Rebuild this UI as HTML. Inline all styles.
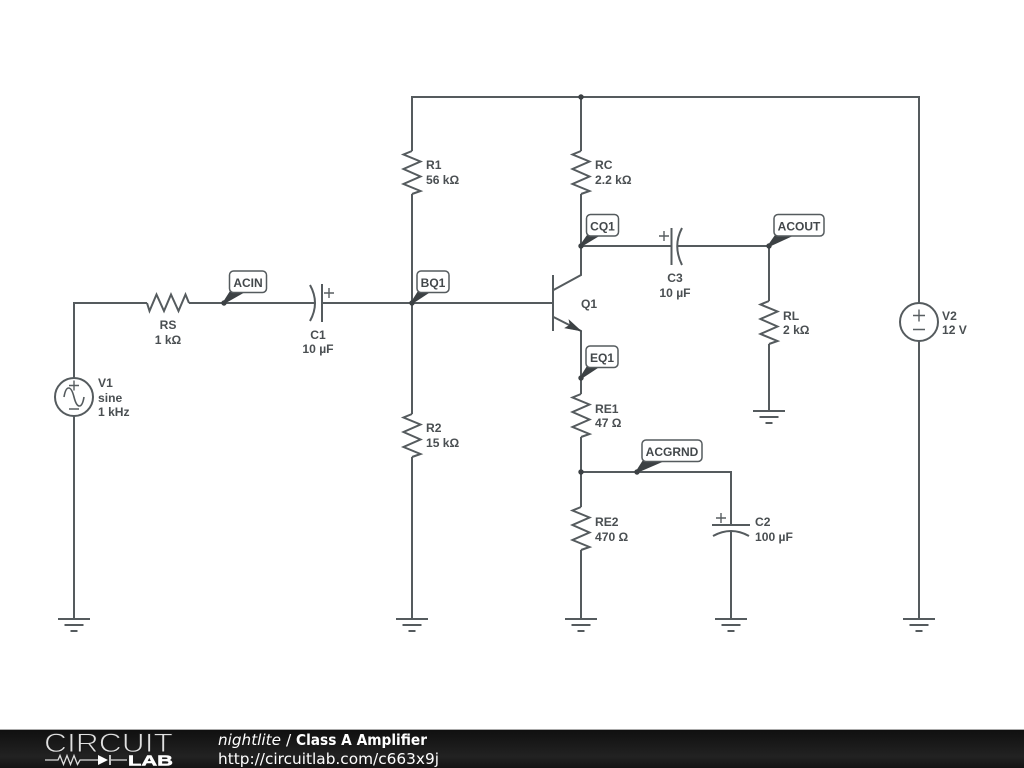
<!DOCTYPE html>
<html><head><meta charset="utf-8"><style>
html,body{margin:0;padding:0;background:#fff;width:1024px;height:768px;overflow:hidden}
svg{display:block}
.w{fill:none;stroke:#555b5e;stroke-width:2}
.t{fill:none;stroke:#585e61;stroke-width:1.4}
.l{font:bold 12.1px "Liberation Sans",sans-serif;fill:#4a4f52}
.n{font:bold 12px "Liberation Sans",sans-serif;fill:#43484b}
.b{fill:#fff;stroke:#555b5e;stroke-width:1.5}
.d{fill:#3c4144}
.f{font-family:"DejaVu Sans",sans-serif;font-size:15.4px;fill:#fff}
</style></head><body>
<svg width="1024" height="768" viewBox="0 0 1024 768" xmlns="http://www.w3.org/2000/svg">
<defs>
<linearGradient id="g" x1="0" y1="0" x2="0" y2="1"><stop offset="0" stop-color="#101010"/><stop offset=".7" stop-color="#222"/><stop offset="1" stop-color="#141414"/></linearGradient>
<g id="vr"><path class="w" d="M0,-21.5 L-8.500,-18 L8.500,-11 L-8.500,-3.500 L8.500,4 L-8.500,11.500 L8.500,18.500 L0,21.500"/></g>
<g id="gnd"><path class="w" d="M-16,0H16M-9.500,6H9.500M-3.500,12H3.500"/></g>
</defs>

<!-- wires -->
<path class="w" d="M74,378V303H147M189,303H315M322,303H553"/>
<path class="w" d="M74,416V619"/>
<path class="w" d="M412,151V97H919V303M919,341V619"/>
<path class="w" d="M412,194V414M412,457V619"/>
<path class="w" d="M581,97V151M581,194V275L553.500,290"/>
<path class="w" d="M581,246H671M678,246H769V301M769,344V411"/>
<path class="w" d="M553.500,317L581,331V394M581,437V507M581,550V619"/>
<path class="w" d="M581,472H731V525M731,531V619"/>

<!-- resistors -->
<path class="w" d="M147,303L149.500,311L156.500,294.500L164,311L171,294.500L178.500,311L185.500,294.500L189,303"/>
<use href="#vr" x="412" y="172.500"/>
<use href="#vr" x="412" y="435.500"/>
<use href="#vr" x="581" y="172.500"/>
<use href="#vr" x="581" y="415.500"/>
<use href="#vr" x="581" y="528.500"/>
<use href="#vr" x="769" y="322.500"/>

<!-- capacitors -->
<path class="w" d="M322,284V322"/><path class="w" d="M310,285Q320,303 310,321"/>
<path class="t" d="M324,293H334M329,288V298"/>
<path class="w" d="M671.500,228V265"/><path class="w" d="M682,228Q672.500,246 682,265"/>
<path class="t" d="M659,236H669M664,231V241"/>
<path class="w" d="M712,525H750"/><path class="w" d="M713,536Q731,526 749,536"/>
<path class="t" d="M716,518H726M721,513V523"/>

<!-- transistor -->
<path class="w" d="M553,275V331"/>
<path d="M581,331L565,328L570,325L569,320Z" fill="#3c4144" stroke="#3c4144" stroke-width=".6"/>

<!-- sources -->
<circle class="w" cx="74" cy="397" r="19" style="fill:#fff"/>
<path class="t" d="M69,385.500H79M74,380.500V390.500M69,409H79"/>
<path class="w" d="M64,397C66,385 71,385 74,397C77,409 82,409 84,397" style="stroke-width:1.6"/>
<circle class="w" cx="919" cy="322" r="19" style="fill:#fff"/>
<path class="t" d="M913,315.500H925M919,309.500V321.500M913,329.500H925"/>

<!-- grounds -->
<use href="#gnd" x="74" y="619"/>
<use href="#gnd" x="412" y="619"/>
<use href="#gnd" x="581" y="619"/>
<use href="#gnd" x="731" y="619"/>
<use href="#gnd" x="919" y="619"/>
<use href="#gnd" x="769" y="411"/>

<!-- junction -->
<circle class="d" cx="581" cy="97" r="2.700"/>
<circle class="d" cx="581" cy="472" r="2.700"/>

<!-- node bubbles -->
<g>
<path class="d" d="M223,302L230,291H247L225,303.500Z"/><circle class="d" cx="224" cy="303" r="2.700"/>
<rect class="b" x="229.500" y="271" width="37" height="21.500" rx="4"/>
<text class="n" x="248" y="287" text-anchor="middle">ACIN</text>

<path class="d" d="M411,302L418,291H432L413,303.500Z"/><circle class="d" cx="412" cy="303" r="2.700"/>
<rect class="b" x="417" y="271" width="32" height="21.500" rx="4"/>
<text class="n" x="433" y="287" text-anchor="middle">BQ1</text>

<path class="d" d="M580,245L587,235H601L582,246.500Z"/><circle class="d" cx="581" cy="246" r="2.700"/>
<rect class="b" x="586.500" y="214.500" width="32" height="21.500" rx="4"/>
<text class="n" x="602.500" y="230.500" text-anchor="middle">CQ1</text>

<path class="d" d="M580,377L587,366H601L582,378.500Z"/><circle class="d" cx="581" cy="378" r="2.700"/>
<rect class="b" x="586" y="346" width="32" height="21.500" rx="4"/>
<text class="n" x="602" y="362" text-anchor="middle">EQ1</text>

<path class="d" d="M636,471L643,460H667L638,472.500Z"/><circle class="d" cx="637" cy="472" r="2.700"/>
<rect class="b" x="642" y="440" width="60" height="21.500" rx="4"/>
<text class="n" x="672" y="456" text-anchor="middle">ACGRND</text>

<path class="d" d="M768,245L775,235H795L770,246.500Z"/><circle class="d" cx="769" cy="246" r="2.700"/>
<rect class="b" x="774" y="214.500" width="50" height="21.500" rx="4"/>
<text class="n" x="799" y="230.500" text-anchor="middle">ACOUT</text>
</g>

<!-- labels -->
<text class="l" x="98" y="387">V1</text><text class="l" x="98" y="402">sine</text><text class="l" x="98" y="416">1 kHz</text>
<text class="l" x="168" y="329" text-anchor="middle">RS</text><text class="l" x="168" y="344" text-anchor="middle">1 kΩ</text>
<text class="l" x="318" y="339" text-anchor="middle">C1</text><text class="l" x="318" y="353" text-anchor="middle">10 µF</text>
<text class="l" x="426" y="169">R1</text><text class="l" x="426" y="184">56 kΩ</text>
<text class="l" x="426" y="432">R2</text><text class="l" x="426" y="447">15 kΩ</text>
<text class="l" x="595" y="169">RC</text><text class="l" x="595" y="184">2.2 kΩ</text>
<text class="l" x="581" y="308">Q1</text>
<text class="l" x="595" y="413">RE1</text><text class="l" x="595" y="427">47 Ω</text>
<text class="l" x="595" y="526">RE2</text><text class="l" x="595" y="541">470 Ω</text>
<text class="l" x="755" y="526">C2</text><text class="l" x="755" y="541">100 µF</text>
<text class="l" x="675" y="282" text-anchor="middle">C3</text><text class="l" x="675" y="297" text-anchor="middle">10 µF</text>
<text class="l" x="783" y="320">RL</text><text class="l" x="783" y="334">2 kΩ</text>
<text class="l" x="942" y="320">V2</text><text class="l" x="942" y="334">12 V</text>

<!-- footer -->
<rect x="0" y="730" width="1024" height="38" fill="url(#g)"/>
<rect x="0" y="729" width="1024" height="1" fill="#aaa"/>
<text x="44" y="752" font-family="'Liberation Sans',sans-serif" font-size="26.500" fill="#e0e0e0" stroke="#1a1a1a" stroke-width=".9" textLength="129" lengthAdjust="spacingAndGlyphs">CIRCUIT</text>
<path d="M45,760H58L60,755.500L63.500,764.500L67,755.500L70.500,764.500L74,755.500L77.500,764.500L80,760H98M111,760H127" fill="none" stroke="#ddd" stroke-width="1.300"/>
<path d="M98,755L108,760L98,765Z" fill="#fff"/><path d="M110,755V765" stroke="#fff" stroke-width="1.500"/>
<text x="128" y="765.500" font-family="'Liberation Sans',sans-serif" font-weight="bold" font-size="15" fill="#fff" stroke="#fff" stroke-width=".5" textLength="45" lengthAdjust="spacingAndGlyphs">LAB</text>
<text class="f" x="218" y="745" font-style="italic" textLength="63" lengthAdjust="spacingAndGlyphs">nightlite</text>
<text class="f" x="286" y="745">/</text>
<text class="f" x="296" y="745" font-weight="bold" textLength="131" lengthAdjust="spacingAndGlyphs">Class A Amplifier</text>
<text class="f" x="218" y="764" textLength="221" lengthAdjust="spacingAndGlyphs">http://circuitlab.com/c663x9j</text>
</svg>
</body></html>
